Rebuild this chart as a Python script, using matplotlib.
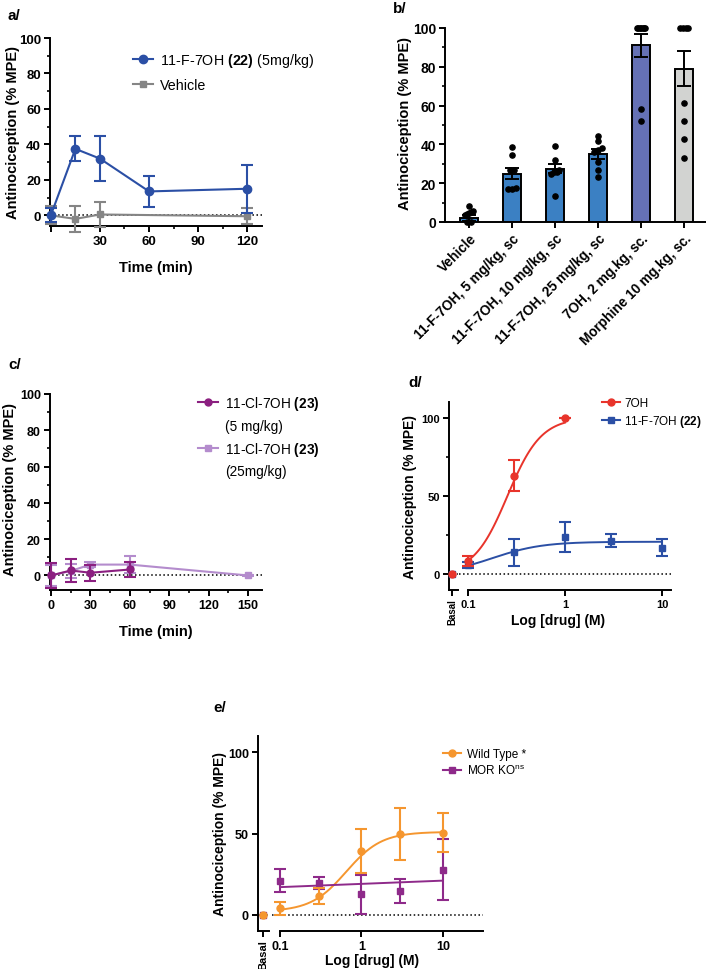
import numpy as np
import matplotlib
matplotlib.use('Agg')
import matplotlib.pyplot as plt
from matplotlib.lines import Line2D
from matplotlib.ticker import FixedLocator, NullLocator

plt.rcParams['font.family'] = ['Liberation Sans', 'DejaVu Sans']
plt.rcParams['mathtext.fontset'] = 'custom'
plt.rcParams['mathtext.rm'] = 'Liberation Sans'
plt.rcParams['mathtext.bf'] = 'Liberation Sans:bold'
plt.rcParams['axes.linewidth'] = 1.4
plt.rcParams['xtick.major.width'] = 1.4
plt.rcParams['ytick.major.width'] = 1.4
plt.rcParams['xtick.minor.width'] = 1.2
plt.rcParams['ytick.minor.width'] = 1.2

W, H = 706, 970

# a/ time course 11-F-7OH vs vehicle
a_time_f = [0, 15, 30, 60, 120]
a_mpe_f = [0, 37.5, 32, 13.5, 15]
a_err_f = [4, 7, 12.5, 8.7, 13.5]
a_time_veh = [0, 15, 30, 120]
a_mpe_veh = [0, -2, 0.5, -0.5]
a_err_veh = [5, 7.5, 7, 4.5]

# b/ bar chart with individual animals
b_labels = ['Vehicle', '11-F-7OH, 5 mg/kg, sc', '11-F-7OH, 10 mg/kg, sc',
            '11-F-7OH, 25 mg/kg, sc', '7OH, 2 mg.kg, sc.', 'Morphine 10 mg.kg, sc.']
b_mean = [2, 25, 27.5, 35, 91, 79]
b_sem = [1.5, 2.7, 2.3, 2.7, 6, 9]
b_dots = [
    [8, 5.5, 5, 4.5, 4, 3.5, 0, 0],
    [38.5, 34.5, 27, 27, 17.5, 17, 17],
    [39, 32, 27, 26, 26, 25, 13.5],
    [44.5, 42, 38, 37, 36, 31, 27, 23],
    [100, 100, 100, 100, 100, 100, 100, 58, 52],
    [100, 100, 100, 100, 61.5, 52, 43, 33],
]
b_colors = ['#3b80c3', '#3b80c3', '#3b80c3', '#3b80c3', '#6571b5', '#d2d3d1']

# c/ time course 11-Cl-7OH
c_time_5 = [0, 15, 30, 60]
c_mpe_5 = [0, 2.75, 1.5, 3.3]
c_err_5 = [7, 6.5, 4.5, 4]
c_time_25 = [0, 15, 30, 60, 150]
c_mpe_25 = [0, 2.5, 6, 6, 0]
c_err_25 = [6, 4, 1.5, 4.5, 0.5]

# d/ dose response 7OH vs 11-F-7OH
d_dose_7oh = [0.1, 0.3, 1]
d_mpe_7oh = [8.5, 63, 100]
d_err_7oh = [3.5, 10, 0]
d_dose_f = [0.1, 0.3, 1, 3, 10]
d_mpe_f = [6, 14, 24, 21.5, 17]
d_err_f = [2, 8.5, 9.5, 4, 5.5]
d_basal = 0
# fitted curves (bottom, top, EC50, hill slope)
d_fit_7oh = (0, 100, 0.255, 2.5)
d_fit_f = (0, 20.8, 0.18, 1.7)

# e/ wild type vs MOR KO
e_dose = [0.1, 0.3, 1, 3, 10]
e_mpe_wt = [4, 11.5, 39.5, 49.5, 50.5]
e_err_wt = [4, 5, 13.5, 16, 12]
e_mpe_ko = [21, 19.3, 12.5, 14.8, 27.6]
e_err_ko = [7, 3.7, 12, 7.3, 18.8]
e_basal = 0
e_fit_wt = (2, 51, 0.65, 2.0)
e_fit_ko_ends = [17, 21]

BLUE = '#2b4fa5'
GREY = '#858585'
DPURPLE = '#8b1f80'
LPURPLE = '#b48ccd'
RED = '#e8342b'
ORANGE = '#f5962f'
KPURPLE = '#8e2a8a'


def px_axes(fig, x0, y0, x1, y1):
    return fig.add_axes([x0 / W, 1 - y1 / H, (x1 - x0) / W, (y1 - y0) / H])


def prism(ax, fs=9.5):
    ax.spines['top'].set_visible(False)
    ax.spines['right'].set_visible(False)
    ax.tick_params(labelsize=fs, length=4, width=1.4, pad=2.5)
    ax.tick_params(which='minor', length=2.5)
    for t in ax.get_xticklabels() + ax.get_yticklabels():
        t.set_fontweight('bold')


def ylabel_at(ax, xpx, ypx, fs=10):
    ax.set_ylabel('Antinociception (% MPE)', fontsize=fs, fontweight='bold')
    ax.yaxis.set_label_coords(xpx / W, 1 - ypx / H, transform=fig.transFigure)
    ax.yaxis.label.set_va('center')


def xlabel_at(ax, text, xpx, ypx, fs=10):
    ax.set_xlabel(text, fontsize=fs, fontweight='bold')
    ax.xaxis.set_label_coords(xpx / W, 1 - ypx / H, transform=fig.transFigure)
    ax.xaxis.label.set_va('center')


def hill(x, p):
    b, t, ec, h = p
    return b + (t - b) / (1 + (ec / x) ** h)


def swarm(vals, spacing=0.1, maxw=0.2):
    vals = np.array(vals, dtype=float)
    order = np.argsort(vals)
    offs = np.zeros(len(vals))
    groups = [[order[0]]]
    for i in order[1:]:
        if vals[i] - vals[groups[-1][-1]] < 2.5:
            groups[-1].append(i)
        else:
            groups.append([i])
    for g in groups:
        n = len(g)
        if n > 1:
            sp = min(spacing, maxw / (n - 1))
            for k, i in enumerate(g):
                offs[i] = (k - (n - 1) / 2) * sp
    return offs


def legend_handle(color, marker, ms=5.5):
    return Line2D([], [], color=color, marker=marker, markersize=ms, lw=1.5)


fig = plt.figure(figsize=(W / 100, H / 100), dpi=100)

# ---------------- a/
ax = px_axes(fig, 50, 39, 262, 227)
ax.axhline(0, color='black', ls=':', lw=1.1, zorder=1)
ax.errorbar(a_time_veh, a_mpe_veh, yerr=a_err_veh, color=GREY, marker='s', ms=5,
            lw=1.5, capsize=4, elinewidth=1.5, capthick=1.5, clip_on=False, zorder=3)
ax.errorbar(a_time_f, a_mpe_f, yerr=a_err_f, color=BLUE, marker='o', ms=6,
            lw=1.5, capsize=4, elinewidth=1.5, capthick=1.5, clip_on=False, zorder=4)
ax.set_xlim(-0.5, 129)
ax.set_ylim(-6, 100)
ax.xaxis.set_major_locator(FixedLocator([0, 30, 60, 90, 120]))
ax.set_xticklabels(['', '30', '60', '90', '120'])
ax.xaxis.set_minor_locator(FixedLocator([15, 45, 75, 105]))
ax.yaxis.set_major_locator(FixedLocator([0, 20, 40, 60, 80, 100]))
ax.yaxis.set_minor_locator(FixedLocator([10, 30, 50, 70, 90]))
prism(ax, 9.5)
xlabel_at(ax, 'Time (min)', 156, 268, 10.5)
ylabel_at(ax, 13, 133, 10.5)
ax.legend([legend_handle(BLUE, 'o', 6), legend_handle(GREY, 's', 5)],
          [r'11-F-7OH $\mathbf{(22)}$ (5mg/kg)', 'Vehicle'],
          loc='upper left', bbox_to_anchor=((133 - 50) / 212, (227 - 52) / 188), frameon=False,
          fontsize=10.3, borderpad=0, borderaxespad=0, handlelength=1.4, handletextpad=0.5,
          labelspacing=0.6)
fig.text(8 / W, 1 - 16 / H, 'a/', fontsize=11, fontweight='bold', va='center')

# ---------------- b/
ax = px_axes(fig, 445, 29, 706, 223)
x = np.arange(len(b_mean))
ax.bar(x, b_mean, width=0.4, color=b_colors, edgecolor='black', lw=1.4, zorder=2)
ax.errorbar(x, b_mean, yerr=b_sem, fmt='none', ecolor='black', elinewidth=1.4,
            capsize=5, capthick=1.4, zorder=3)
for i, vals in enumerate(b_dots):
    ax.scatter(i + swarm(vals), vals, s=14, color='black', zorder=4, clip_on=False)
ax.set_xlim(-0.56, 5.51)
ax.set_ylim(0, 100)
ax.set_xticks(x)
ax.set_xticklabels(b_labels, rotation=45, ha='right', rotation_mode='anchor')
ax.yaxis.set_major_locator(FixedLocator([0, 20, 40, 60, 80, 100]))
ax.yaxis.set_minor_locator(FixedLocator([10, 30, 50, 70, 90]))
prism(ax, 10)
ax.tick_params(axis='x', labelsize=9.8)
ylabel_at(ax, 405, 124, 10.5)
fig.text(393 / W, 1 - 9 / H, 'b/', fontsize=11, fontweight='bold', va='center')

# ---------------- c/
ax = px_axes(fig, 50, 395, 262, 591)
ax.axhline(0, color='black', ls=':', lw=1.1, zorder=1)
ax.errorbar(c_time_25, c_mpe_25, yerr=c_err_25, color=LPURPLE, marker='s', ms=5,
            lw=1.5, capsize=4, elinewidth=1.5, capthick=1.5, clip_on=False, zorder=3)
ax.errorbar(c_time_5, c_mpe_5, yerr=c_err_5, color=DPURPLE, marker='o', ms=5,
            lw=1.5, capsize=4, elinewidth=1.5, capthick=1.5, clip_on=False, zorder=4)
ax.set_xlim(-0.8, 160.5)
ax.set_ylim(-8, 100)
ax.xaxis.set_major_locator(FixedLocator([0, 30, 60, 90, 120, 150]))
ax.xaxis.set_minor_locator(FixedLocator([15, 45, 75, 105, 135]))
ax.yaxis.set_major_locator(FixedLocator([0, 20, 40, 60, 80, 100]))
ax.yaxis.set_minor_locator(FixedLocator([10, 30, 50, 70, 90]))
prism(ax, 9)
xlabel_at(ax, 'Time (min)', 156, 632, 10.5)
ylabel_at(ax, 10, 490, 10.5)
blank = Line2D([], [], color='none')
ax.legend([legend_handle(DPURPLE, 'o', 5), blank, legend_handle(LPURPLE, 's', 5), blank],
          [r'11-Cl-7OH $\mathbf{(23)}$', '(5 mg/kg)', r'11-Cl-7OH $\mathbf{(23)}$', '(25mg/kg)'],
          loc='upper left', bbox_to_anchor=((198 - 50) / 212, (591 - 395) / 196), frameon=False,
          fontsize=9.8, borderpad=0, borderaxespad=0, handlelength=1.5, handletextpad=0.5,
          labelspacing=0.5)
fig.text(8 / W, 1 - 365 / H, 'c/', fontsize=11, fontweight='bold', va='center')


# ---------------- dose-response panels with broken "Basal" axis
def dose_axes(x0, xb, xm0, xm1, y0, y1, xmax, fs):
    axb = px_axes(fig, x0, y0, xb, y1)
    axm = px_axes(fig, xm0, y0, xm1, y1)
    for a_ in (axb, axm):
        a_.set_ylim(-10, 110)
        a_.spines['top'].set_visible(False)
        a_.spines['right'].set_visible(False)
        a_.patch.set_alpha(0)
    axm.spines['left'].set_visible(False)
    axm.tick_params(axis='y', left=False, labelleft=False)
    axm.set_xscale('log')
    axm.set_xlim(0.1, xmax)
    axm.xaxis.set_major_locator(FixedLocator([0.1, 1, 10]))
    axm.xaxis.set_minor_locator(NullLocator())
    axm.set_xticklabels(['0.1', '1', '10'])
    axb.set_xlim(-1, 1.6)
    axb.set_xticks([0])
    axb.set_xticklabels(['Basal'], rotation=90)
    axb.yaxis.set_major_locator(FixedLocator([0, 50, 100]))
    prism(axb, fs)
    prism(axm, fs)
    axb.tick_params(axis='x', labelsize=fs - 1, pad=2)
    axb.axhline(0, color='black', ls=':', lw=1.1, zorder=1)
    axm.plot([0.08, xmax], [0, 0], color='black', ls=':', lw=1.1, zorder=1, clip_on=False)
    return axb, axm


axb, axm = dose_axes(449, 458, 468, 671, 403, 591, 12.4, 8)
axb.yaxis.set_minor_locator(FixedLocator([25, 75]))
ylabel_at(axb, 410, 497, 10)
xlabel_at(axm, 'Log [drug] (M)', 558, 621, 10)
xs = np.logspace(-1, 0, 100)
axm.plot(xs, hill(xs, d_fit_7oh), color=RED, lw=1.4, zorder=3)
xs2 = np.logspace(-1, 1, 150)
axm.plot(xs2, hill(xs2, d_fit_f), color=BLUE, lw=1.4, zorder=3)
axm.errorbar(d_dose_f, d_mpe_f, yerr=d_err_f, fmt='s', color=BLUE, ms=5, capsize=4,
             elinewidth=1.5, capthick=1.5, clip_on=False, zorder=4)
axm.errorbar(d_dose_7oh, d_mpe_7oh, yerr=d_err_7oh, fmt='o', color=RED, ms=5, capsize=4,
             elinewidth=1.5, capthick=1.5, clip_on=False, zorder=5)
axb.plot([0], [d_basal], 's', color=BLUE, ms=5, clip_on=False, zorder=3)
axb.plot([0], [d_basal], 'o', color=RED, ms=5, clip_on=False, zorder=4)
axm.legend([legend_handle(RED, 'o', 5), legend_handle(BLUE, 's', 5)],
           ['7OH', r'11-F-7OH $\mathbf{(22)}$'],
           loc='upper left', bbox_to_anchor=((602 - 468) / 203, (591 - 398) / 188), frameon=False,
           fontsize=8.5, borderpad=0, borderaxespad=0, handlelength=1.5, handletextpad=0.4,
           labelspacing=0.35)
fig.text(408 / W, 1 - 383 / H, 'd/', fontsize=11, fontweight='bold', va='center')

# ---------------- e/
axb, axm = dose_axes(258, 269, 280, 483, 737, 932, 31, 9)
axb.set_xlim(-1, 1.2)
ylabel_at(axb, 220, 834, 10)
xlabel_at(axm, 'Log [drug] (M)', 372, 961, 10)
xs3 = np.logspace(-1, 1, 150)
axm.plot(xs3, hill(xs3, e_fit_wt), color=ORANGE, lw=1.4, zorder=3)
axm.plot([e_dose[0], e_dose[-1]], e_fit_ko_ends, color=KPURPLE, lw=1.4, zorder=3)
axm.errorbar(e_dose, e_mpe_ko, yerr=e_err_ko, fmt='s', color=KPURPLE, ms=5, capsize=4,
             elinewidth=1.5, capthick=1.5, clip_on=False, zorder=4)
axm.errorbar(e_dose, e_mpe_wt, yerr=e_err_wt, fmt='o', color=ORANGE, ms=5, capsize=4,
             elinewidth=1.5, capthick=1.5, clip_on=False, zorder=5)
axb.plot([0], [e_basal], 's', color=KPURPLE, ms=5, clip_on=False, zorder=3)
axb.plot([0], [e_basal], 'o', color=ORANGE, ms=5, clip_on=False, zorder=4)
axm.legend([legend_handle(ORANGE, 'o', 5), legend_handle(KPURPLE, 's', 5)],
           ['Wild Type *', r'MOR KO$^{\rm ns}$'],
           loc='upper left', bbox_to_anchor=((443 - 280) / 203, (932 - 749) / 195), frameon=False,
           fontsize=8.5, borderpad=0, borderaxespad=0, handlelength=1.5, handletextpad=0.5,
           labelspacing=0.3)
fig.text(213 / W, 1 - 708 / H, 'e/', fontsize=11, fontweight='bold', va='center')

fig.savefig('out.png', dpi=100)
